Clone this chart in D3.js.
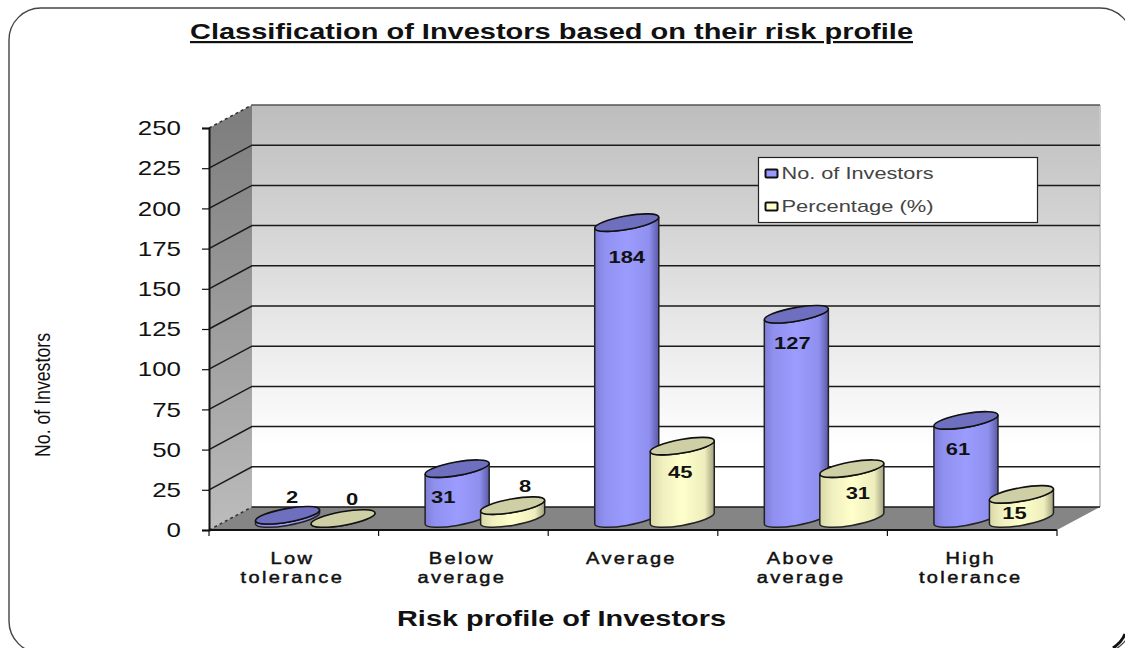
<!DOCTYPE html>
<html>
<head>
<meta charset="utf-8">
<script src="https://cdn.jsdelivr.net/npm/d3@7"></script>
<style>
	html, body { margin: 0; padding: 0; background: #fff; }
	svg { display: block; }
	text { font-family: "Liberation Sans", Arial, sans-serif; fill: #111; }
</style>
</head>
<body>
<svg id="chart" width="1125" height="648"></svg>
<script>
var categories = [["Low", "tolerance"], ["Below", "average"], ["Average"], ["Above", "average"], ["High", "tolerance"]];
var seriesNames = ["No. of Investors", "Percentage (%)"];
var investors = [2, 31, 184, 127, 61];
var percentage = [0, 8, 45, 31, 15];
var yTicks = [0, 25, 50, 75, 100, 125, 150, 175, 200, 225, 250];

var svg = d3.select("#chart"),
	width = 1125,
	height = 648,
	margin = { top: 128, left: 209, right: 68, bottom: 118 },
	depth = { x: 43, y: -23 };

var x0 = d3.scaleBand().domain(d3.range(categories.length)).range([margin.left, width - margin.right]);
var x1 = d3.scaleBand().domain([0, 1]).range([-55.5, 55.5]);
var y = d3.scaleLinear().domain([0, 250]).range([height - margin.bottom, margin.top]);

var plotLeft = margin.left, plotRight = width - margin.right, plotBase = y(0), plotTop = y(250);
var defs = svg.append("defs");

function gradient(id, stops, vertical) {
	var g = defs.append("linearGradient").attr("id", id)
		.attr("x1", 0).attr("y1", 0)
		.attr("x2", vertical ? 0 : 1).attr("y2", vertical ? 1 : 0);
	stops.forEach(function(s) {
		g.append("stop").attr("offset", s[0]).attr("stop-color", s[1]);
	});
}
gradient("wall", [[0, "#bdbdbd"], [0.85, "#ffffff"], [1, "#ffffff"]], true);
gradient("sideWall", [[0, "#7c7c7c"], [1, "#bcbcbc"]], true);
gradient("blue", [[0, "#7f7fd8"], [0.15, "#9090f0"], [0.5, "#9c9cff"], [0.85, "#8f8fee"], [1, "#5a5aa8"]], false);
gradient("yellow", [[0, "#d8d8a8"], [0.2, "#f0f0c0"], [0.5, "#ffffcc"], [0.85, "#eeeebc"], [1, "#a0a080"]], false);

// outer rounded frame, it runs off the right and bottom of the picture
svg.append("rect").attr("x", 9).attr("y", 8).attr("width", 1123).attr("height", 645)
	.attr("rx", 32).attr("fill", "#fff").attr("stroke", "#444").attr("stroke-width", 1.4);
svg.append("path").attr("d", "M1125,634 Q1122,642 1113,648").attr("fill", "none")
	.attr("stroke", "#111").attr("stroke-width", 3);

// walls and floor
var g = svg.append("g");
g.append("rect").attr("x", plotLeft + depth.x).attr("y", plotTop + depth.y)
	.attr("width", plotRight - plotLeft).attr("height", plotBase - plotTop)
	.attr("fill", "url(#wall)");
g.append("path").attr("fill", "url(#sideWall)")
	.attr("d", d3.line()([[plotLeft, plotTop], [plotLeft + depth.x, plotTop + depth.y], [plotLeft + depth.x, plotBase + depth.y], [plotLeft, plotBase]]) + "Z");
g.append("path").attr("fill", "#858585")
	.attr("d", d3.line()([[plotLeft, plotBase], [plotLeft + depth.x, plotBase + depth.y], [plotRight + depth.x, plotBase + depth.y], [plotRight, plotBase]]) + "Z");
g.append("line").attr("x1", plotRight + depth.x).attr("x2", plotRight + depth.x)
	.attr("y1", plotTop + depth.y).attr("y2", plotBase + depth.y)
	.attr("stroke", "#c8c8c8").attr("stroke-width", 2);

// grid lines, back wall and side wall
g.selectAll(".grid").data(yTicks).enter().append("path")
	.attr("class", "grid")
	.attr("fill", "none")
	.attr("stroke", function(d) {
		return d == 250 ? "#555" : "#1a1a1a";
	})
	.attr("stroke-width", 1.5)
	.attr("d", function(d) {
		var py = y(d);
		if (d == 0 || d == 250) {
			return "M" + (plotLeft + depth.x) + "," + (py + depth.y) + "H" + (plotRight + depth.x);
		}
		return "M" + plotLeft + "," + py + "L" + (plotLeft + depth.x) + "," + (py + depth.y) + "H" + (plotRight + depth.x);
	});
// the two dotted diagonals at the corners
g.selectAll(".corner").data([0, 250]).enter().append("line")
	.attr("x1", plotLeft).attr("y1", function(d) { return y(d); })
	.attr("x2", plotLeft + depth.x).attr("y2", function(d) { return y(d) + depth.y; })
	.attr("stroke", "#333").attr("stroke-width", 1.5).attr("stroke-dasharray", "3,3");

// axes
var yAxis = svg.append("g").attr("transform", "translate(" + plotLeft + ",0)")
	.call(d3.axisLeft(y).tickValues(yTicks).tickSize(7).tickPadding(21));
yAxis.select(".domain").attr("stroke", "#111").attr("stroke-width", 2);
yAxis.selectAll("line").attr("stroke", "#111").attr("stroke-width", 1.2);
yAxis.selectAll("text").attr("font-size", 21).attr("font-family", "Liberation Sans")
	.attr("fill", "#222")
	.attr("textLength", function(d) { return String(d).length * 14.4; })
	.attr("lengthAdjust", "spacingAndGlyphs");

var xAxis = svg.append("g").attr("transform", "translate(0," + plotBase + ")");
xAxis.append("line").attr("x1", plotLeft).attr("x2", plotRight).attr("stroke", "#111").attr("stroke-width", 2);
xAxis.selectAll(".tick").data(d3.range(categories.length + 1)).enter().append("line")
	.attr("x1", function(d) { return d < categories.length ? x0(d) : plotRight; })
	.attr("x2", function(d) { return d < categories.length ? x0(d) : plotRight; })
	.attr("y1", 0).attr("y2", 6)
	.attr("stroke", "#111").attr("stroke-width", 1.2);
xAxis.selectAll(".cat").data(categories).enter().append("g")
	.attr("class", "cat")
	.attr("transform", function(d, i) {
		return "translate(" + (x0(i) + x0.bandwidth() / 2 - 1.5) + ",0) scale(1.25,1)";
	})
	.append("text")
	.attr("text-anchor", "middle")
	.attr("font-size", 16)
	.attr("stroke", "#111")
	.attr("stroke-width", 0.45)
	.attr("letter-spacing", 1.9)
	.each(function(d) {
		d3.select(this).selectAll("tspan").data(d).enter().append("tspan")
			.attr("x", 0)
			.attr("y", function(t, j) { return 34 + j * 19; })
			.text(function(t) { return t; });
	});

// cylinders, back to front inside each category
var rx = 32.5, ry = 6.8, tilt = -10 * Math.PI / 180;
function ellipsePoint(t) {
	return [rx * Math.cos(t) * Math.cos(tilt) - ry * Math.sin(t) * Math.sin(tilt),
		rx * Math.cos(t) * Math.sin(tilt) + ry * Math.sin(t) * Math.cos(tilt)];
}
var tangent = Math.atan2(-ry * Math.sin(tilt), rx * Math.cos(tilt));
var rightEdge = ellipsePoint(tangent), leftEdge = ellipsePoint(tangent + Math.PI);
var tiltDeg = tilt * 180 / Math.PI;

function sidePath(cx, yTop, yBase) {
	return "M" + (cx + leftEdge[0]) + "," + (yTop + leftEdge[1]) +
		"L" + (cx + leftEdge[0]) + "," + (yBase + leftEdge[1]) +
		"A" + rx + "," + ry + " " + tiltDeg + " 0 0 " + (cx + rightEdge[0]) + "," + (yBase + rightEdge[1]) +
		"L" + (cx + rightEdge[0]) + "," + (yTop + rightEdge[1]) +
		"A" + rx + "," + ry + " " + tiltDeg + " 0 1 " + (cx + leftEdge[0]) + "," + (yTop + leftEdge[1]) + "Z";
}

var seriesData = [investors, percentage];
var seriesStyle = [
	{ side: "url(#blue)", cap: "#6f6fc0" },
	{ side: "url(#yellow)", cap: "#cfcfa6" }
];
// label nudges from the top of each cylinder: [dx, dy of the baseline]
var labelNudge = [
	[[4.5, -12], [-14, 34], [0, 40], [-4, 35], [-8, 35]],
	[[9, -14], [12.5, -13.5], [-2, 32], [6, 30], [-7, 25]]
];

function barCenter(i, s) {
	return x0(i) + x0.bandwidth() / 2 + depth.x / 2 + x1(s) + x1.bandwidth() / 2;
}
function barY(v) {
	return y(v) + depth.y / 2;
}

var bars = svg.append("g");
categories.forEach(function(c, i) {
	seriesData.forEach(function(values, s) {
		var cx = barCenter(i, s), v = values[i];
		var b = bars.append("g").datum(v);
		b.append("path").attr("d", sidePath(cx, barY(v), barY(0)))
			.attr("fill", seriesStyle[s].side).attr("stroke", "#222").attr("stroke-width", 1.5);
		b.append("ellipse").attr("cx", cx).attr("cy", barY(v))
			.attr("rx", rx).attr("ry", ry)
			.attr("transform", "rotate(" + tiltDeg + " " + cx + " " + barY(v) + ")")
			.attr("fill", seriesStyle[s].cap).attr("stroke", "#111").attr("stroke-width", 1.6);
	});
});

var labels = svg.append("g");
categories.forEach(function(c, i) {
	seriesData.forEach(function(values, s) {
		var v = values[i], nudge = labelNudge[s][i];
		labels.append("text")
			.attr("x", barCenter(i, s) + nudge[0])
			.attr("y", barY(v) + nudge[1])
			.attr("text-anchor", "middle")
			.attr("font-size", 16.5)
			.attr("font-weight", "bold")
			.attr("textLength", String(v).length * 12.2)
			.attr("lengthAdjust", "spacingAndGlyphs")
			.text(v);
	});
});

// legend
var legend = svg.append("g").attr("transform", "translate(758.5,157.5)");
legend.append("rect").attr("width", 279).attr("height", 65)
	.attr("fill", "#fff").attr("stroke", "#222").attr("stroke-width", 1.2);
legend.selectAll(".item").data(seriesNames).enter().append("g")
	.attr("transform", function(d, i) { return "translate(7," + (11 + i * 33) + ")"; })
	.each(function(d, i) {
		var item = d3.select(this);
		item.append("rect").attr("width", 12).attr("height", 8).attr("y", 1).attr("rx", 1)
			.attr("fill", i == 0 ? "#9999ff" : "#ffffcc").attr("stroke", "#111").attr("stroke-width", 2);
		item.append("text").attr("x", 16).attr("y", 10).attr("font-size", 17)
			.attr("textLength", 152).attr("lengthAdjust", "spacingAndGlyphs")
			.style("fill", "#444").text(d);
	});

// titles
svg.append("text").attr("x", 190).attr("y", 39)
	.attr("font-size", 22).attr("font-weight", "bold")
	.attr("text-decoration", "underline")
	.attr("textLength", 723).attr("lengthAdjust", "spacingAndGlyphs")
	.text("Classification of Investors based on their risk profile");
svg.append("text").attr("x", 397).attr("y", 626)
	.attr("font-size", 22).attr("font-weight", "bold")
	.attr("textLength", 329).attr("lengthAdjust", "spacingAndGlyphs")
	.text("Risk profile of Investors");
svg.append("text").attr("transform", "translate(50,457) rotate(-90)")
	.attr("font-size", 22)
	.attr("textLength", 124).attr("lengthAdjust", "spacingAndGlyphs")
	.text("No. of Investors");
</script>
</body>
</html>
